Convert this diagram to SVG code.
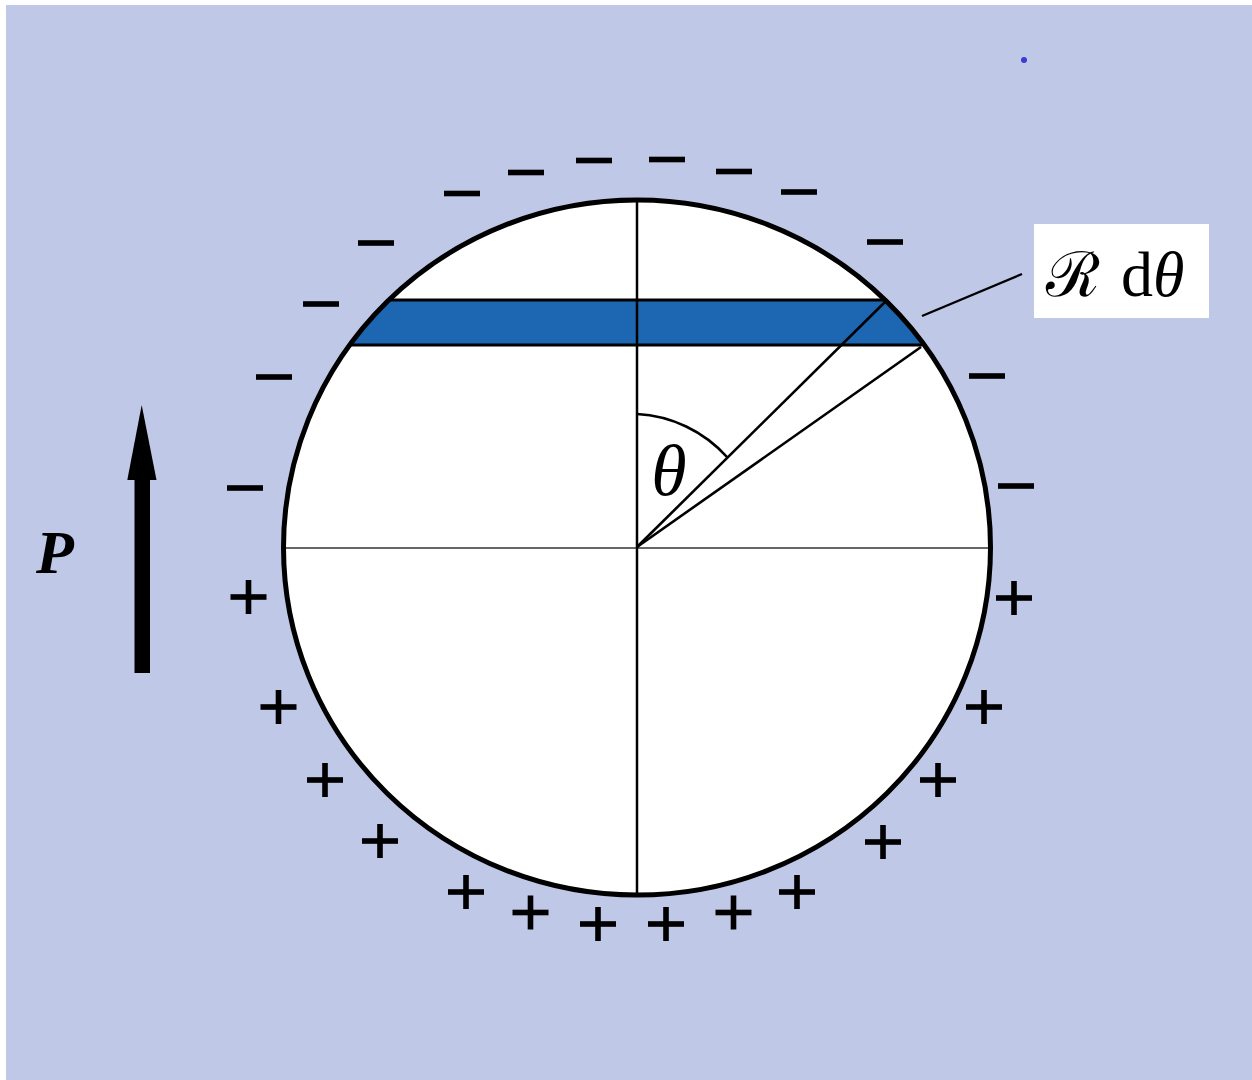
<svg xmlns="http://www.w3.org/2000/svg" width="1252" height="1080" viewBox="0 0 1252 1080">
<style>
.bar{fill:#000}
.ln{stroke:#000;fill:none}
.serif{font-family:"Liberation Serif","DejaVu Serif",serif}
</style>
<defs>
<g id="minus"><rect x="-18" y="-2.8" width="36" height="5.6" class="bar"/></g>
<g id="plus"><rect x="-18" y="-2.8" width="36" height="5.6" class="bar"/><rect x="-2.8" y="-17" width="5.6" height="34" class="bar"/></g>
</defs>
<rect width="1252" height="1080" fill="#ffffff"/>
<rect x="6" y="5" width="1246" height="1075" fill="#c0c8e8"/>
<circle cx="1024" cy="60" r="3" fill="#3a3ad8"/>
<g id="sphere">
<ellipse cx="637" cy="547.5" rx="353.5" ry="347.5" fill="#ffffff"/>
<path d="M388,300 L886,300 A353.5,347.5 0 0 1 922,345 L349,345 A353.5,347.5 0 0 1 388,300 Z" fill="#1c66b2"/>
<line x1="388" y1="300" x2="886" y2="300" class="ln" stroke-width="3"/>
<line x1="349" y1="345" x2="922" y2="345" class="ln" stroke-width="3"/>
<line x1="284" y1="548" x2="990" y2="548" stroke="#333" stroke-width="1.6"/>
<line x1="637" y1="200" x2="637" y2="895" class="ln" stroke-width="2.5"/>
<line x1="637" y1="547" x2="885" y2="302" class="ln" stroke-width="2.6"/>
<line x1="637" y1="547" x2="921" y2="347" class="ln" stroke-width="2.6"/>
<path d="M637,414 A131,133 0 0 1 727,457" class="ln" stroke-width="2.6"/>
<ellipse cx="637" cy="547.5" rx="353.5" ry="347.5" fill="none" stroke="#000" stroke-width="5"/>
<text x="669" y="495" class="serif" font-style="italic" font-size="72" text-anchor="middle">θ</text>
</g>
<g id="charges-minus">
<use href="#minus" x="462" y="193.5"/>
<use href="#minus" x="526" y="172.5"/>
<use href="#minus" x="594" y="160.5"/>
<use href="#minus" x="667" y="159.5"/>
<use href="#minus" x="734" y="171.5"/>
<use href="#minus" x="799" y="192"/>
<use href="#minus" x="376" y="243"/>
<use href="#minus" x="885" y="242"/>
<use href="#minus" x="321" y="304"/>
<use href="#minus" x="274" y="377"/>
<use href="#minus" x="987" y="376"/>
<use href="#minus" x="245" y="488"/>
<use href="#minus" x="1016" y="486"/>
</g>
<g id="charges-plus">
<use href="#plus" x="248.5" y="597"/>
<use href="#plus" x="1014" y="598"/>
<use href="#plus" x="278.5" y="707"/>
<use href="#plus" x="984" y="707"/>
<use href="#plus" x="325" y="780"/>
<use href="#plus" x="938" y="780"/>
<use href="#plus" x="380" y="841"/>
<use href="#plus" x="883" y="842"/>
<use href="#plus" x="466" y="892"/>
<use href="#plus" x="530.5" y="912.5"/>
<use href="#plus" x="598" y="924"/>
<use href="#plus" x="666" y="924"/>
<use href="#plus" x="733.5" y="912.5"/>
<use href="#plus" x="797" y="892"/>
</g>
<g id="label-Rdtheta">
<rect x="1034" y="224" width="175" height="94" fill="#ffffff"/>
<text x="1045" y="296" class="serif" font-size="64"><tspan font-family="'DejaVu Serif','Noto Sans',serif" font-style="italic" font-size="62">ℛ</tspan> <tspan x="1121">d</tspan><tspan font-style="italic">θ</tspan></text>
</g>
<g id="connectors">
<line x1="922" y1="316" x2="1022" y2="274" class="ln" stroke-width="2.4"/>
</g>
<g id="arrow-P">
<rect x="134.5" y="478" width="15.5" height="195" class="bar"/>
<polygon points="141.7,405 156.5,480 127.3,480" class="bar"/>
<text x="36" y="573" class="serif" font-style="italic" font-weight="bold" font-size="62">P</text>
</g>
</svg>
